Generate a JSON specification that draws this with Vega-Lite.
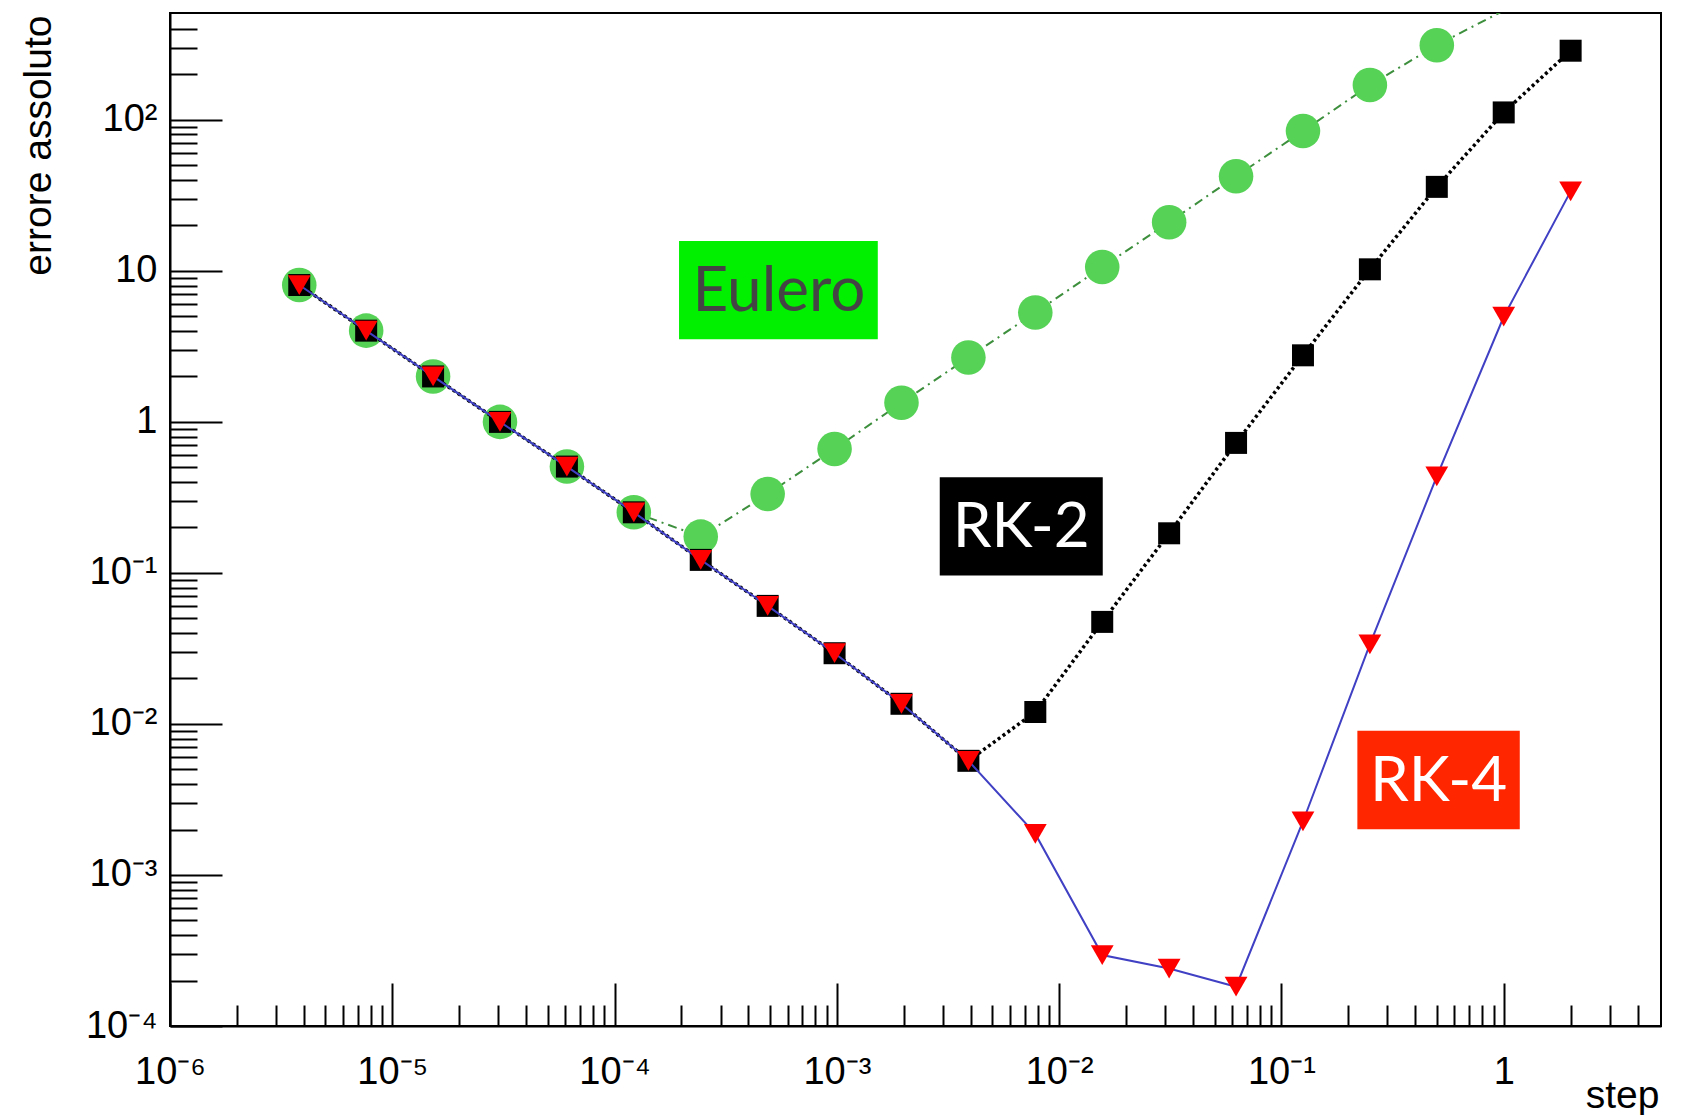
{
  "$schema": "https://vega.github.io/schema/vega-lite/v6.json",
  "width": 1491,
  "height": 1013,
  "autosize": {"type": "none"},
  "padding": {"left": 170, "top": 13, "right": 23, "bottom": 89},
  "background": "white",
  "config": {
    "view": {"stroke": "black", "strokeWidth": 2},
    "axis": {
      "grid": false,
      "labelFont": "Liberation Sans",
      "titleFont": "Liberation Sans",
      "labelColor": "black",
      "titleColor": "black",
      "domainColor": "black",
      "tickColor": "black",
      "labelFontSize": 38,
      "titleFontSize": 39,
      "titleFontWeight": "normal",
      "labelOverlap": false,
      "labelFlush": false,
      "labelBound": false
    }
  },
  "datasets": {
    "err": [
      {"h": 3.814697265625e-6, "euler": 8.06, "rk2": 8.06, "rk4": 8.06},
      {"h": 7.62939453125e-6, "euler": 4.02, "rk2": 4.02, "rk4": 4.02},
      {"h": 1.52587890625e-5, "euler": 2.0, "rk2": 2.0, "rk4": 2.0},
      {"h": 3.0517578125e-5, "euler": 1.0, "rk2": 1.0, "rk4": 1.0},
      {"h": 6.103515625e-5, "euler": 0.506, "rk2": 0.506, "rk4": 0.506},
      {"h": 1.220703125e-4, "euler": 0.252, "rk2": 0.252, "rk4": 0.252},
      {"h": 2.44140625e-4, "euler": 0.174, "rk2": 0.122, "rk4": 0.122},
      {"h": 4.8828125e-4, "euler": 0.333, "rk2": 0.0605, "rk4": 0.0605},
      {"h": 9.765625e-4, "euler": 0.662, "rk2": 0.0294, "rk4": 0.0294},
      {"h": 1.953125e-3, "euler": 1.34, "rk2": 0.0136, "rk4": 0.0136},
      {"h": 3.90625e-3, "euler": 2.67, "rk2": 0.0057, "rk4": 0.0057},
      {"h": 7.8125e-3, "euler": 5.3, "rk2": 0.012, "rk4": 0.00187},
      {"h": 0.015625, "euler": 10.6, "rk2": 0.0474, "rk4": 0.000295},
      {"h": 0.03125, "euler": 21.0, "rk2": 0.183, "rk4": 0.00024},
      {"h": 0.0625, "euler": 42.3, "rk2": 0.726, "rk4": 0.000182},
      {"h": 0.125, "euler": 84.3, "rk2": 2.76, "rk4": 0.00226},
      {"h": 0.25, "euler": 170, "rk2": 10.24, "rk4": 0.0336},
      {"h": 0.5, "euler": 312, "rk2": 36.0, "rk4": 0.436},
      {"h": 1, "euler": 530, "rk2": 112, "rk4": 4.97},
      {"h": 2, "euler": null, "rk2": 287, "rk4": 33.6}
    ],
    "labels": [
      {"label": "Eulero", "step_lo": 1.95e-4, "step_hi": 1.528e-3, "step_mid": 5.494e-4, "err_lo": 3.524, "err_hi": 15.77, "err_mid": 7.45},
      {"label": "RK-2", "step_lo": 2.903e-3, "step_hi": 0.01571, "step_mid": 6.754e-3, "err_lo": 0.09598, "err_hi": 0.43, "err_mid": 0.2032},
      {"label": "RK-4", "step_lo": 0.2196, "step_hi": 1.181, "step_mid": 0.5093, "err_lo": 0.002011, "err_hi": 0.009, "err_mid": 0.004253}
    ]
  },
  "layer": [
    {
      "data": {"name": "err"},
      "mark": {"type": "line", "color": "#3d8f3d", "strokeWidth": 2, "strokeDash": [9, 5, 2, 5], "clip": true},
      "encoding": {
        "x": {
          "field": "h", "type": "quantitative",
          "scale": {"type": "log", "domain": [1e-6, 5.1], "nice": false},
          "axis": {
            "orient": "bottom",
            "values": [2e-6, 3e-6, 4e-6, 5e-6, 6e-6, 7e-6, 8e-6, 9e-6, 2e-5, 3e-5, 4e-5, 5e-5, 6e-5, 7e-5, 8e-5, 9e-5, 2e-4, 3e-4, 4e-4, 5e-4, 6e-4, 7e-4, 8e-4, 9e-4, 2e-3, 3e-3, 4e-3, 5e-3, 6e-3, 7e-3, 8e-3, 9e-3, 0.02, 0.03, 0.04, 0.05, 0.06, 0.07, 0.08, 0.09, 0.2, 0.3, 0.4, 0.5, 0.6, 0.7, 0.8, 0.9, 2, 3, 4],
            "tickSize": -21, "tickWidth": 2, "labels": false, "domain": false, "title": null
          }
        },
        "y": {
          "field": "euler", "type": "quantitative",
          "scale": {"type": "log", "domain": [1e-4, 510], "nice": false},
          "axis": {
            "orient": "left",
            "values": [2e-4, 3e-4, 4e-4, 5e-4, 6e-4, 7e-4, 8e-4, 9e-4, 2e-3, 3e-3, 4e-3, 5e-3, 6e-3, 7e-3, 8e-3, 9e-3, 0.02, 0.03, 0.04, 0.05, 0.06, 0.07, 0.08, 0.09, 0.2, 0.3, 0.4, 0.5, 0.6, 0.7, 0.8, 0.9, 2, 3, 4, 5, 6, 7, 8, 9, 20, 30, 40, 50, 60, 70, 80, 90, 200, 300, 400],
            "tickSize": -27, "tickWidth": 2, "labels": false, "domain": false, "title": null
          }
        }
      }
    },
    {
      "data": {"name": "err"},
      "transform": [{"filter": "datum.euler != null && datum.euler <= 510"}],
      "mark": {"type": "point", "shape": "circle", "filled": true, "color": "#56d256", "opacity": 1, "size": 1195, "clip": true},
      "encoding": {
        "x": {
          "field": "h", "type": "quantitative",
          "scale": {"type": "log", "domain": [1e-6, 5.1], "nice": false},
          "axis": {
            "orient": "bottom",
            "values": [1e-6, 1e-5, 1e-4, 1e-3, 1e-2, 0.1, 1],
            "tickSize": -43, "tickWidth": 2, "domainWidth": 2,
            "labelPadding": 70,
            "labelExpr": "datum.value < 0.5 ? '10' + ['⁻⁶','⁻⁵','⁻⁴','⁻³','⁻²','⁻¹'][round(log(datum.value)/LN10)+6] : '1'",
            "title": "step", "titleX": 1489, "titleY": 81, "titleAlign": "right", "titleBaseline": "alphabetic", "titleAngle": 0
          }
        },
        "y": {
          "field": "euler", "type": "quantitative",
          "scale": {"type": "log", "domain": [1e-4, 510], "nice": false},
          "axis": {
            "orient": "left",
            "values": [1e-4, 1e-3, 1e-2, 0.1, 1, 10, 100],
            "tickSize": -52, "tickWidth": 2, "domainWidth": 2,
            "labelPadding": 65,
            "labelExpr": "datum.value < 0.5 ? '10' + ['⁻⁴','⁻³','⁻²','⁻¹'][round(log(datum.value)/LN10)+4] : (datum.value < 5 ? '1' : (datum.value < 50 ? '10' : '10²'))",
            "title": "errore assoluto", "titleX": -120, "titleY": 2, "titleAngle": -90, "titleAlign": "right", "titleBaseline": "alphabetic"
          }
        }
      }
    },
    {
      "data": {"name": "err"},
      "mark": {"type": "line", "color": "black", "strokeWidth": 3.5, "strokeDash": [3, 3], "clip": true},
      "encoding": {
        "x": {"field": "h", "type": "quantitative", "axis": null},
        "y": {"field": "rk2", "type": "quantitative", "axis": null}
      }
    },
    {
      "data": {"name": "err"},
      "mark": {"type": "point", "shape": "square", "filled": true, "color": "black", "opacity": 1, "size": 484, "clip": true},
      "encoding": {
        "x": {"field": "h", "type": "quantitative", "axis": null},
        "y": {"field": "rk2", "type": "quantitative", "axis": null}
      }
    },
    {
      "data": {"name": "err"},
      "mark": {"type": "line", "color": "#4040c4", "strokeWidth": 2, "clip": true},
      "encoding": {
        "x": {"field": "h", "type": "quantitative", "axis": null},
        "y": {"field": "rk4", "type": "quantitative", "axis": null}
      }
    },
    {
      "data": {"name": "err"},
      "mark": {"type": "point", "shape": "triangle-down", "filled": true, "color": "#ff0000", "opacity": 1, "size": 520, "clip": true},
      "encoding": {
        "x": {"field": "h", "type": "quantitative", "axis": null},
        "y": {"field": "rk4", "type": "quantitative", "axis": null}
      }
    },
    {
      "data": {"name": "labels"},
      "mark": {"type": "rect"},
      "encoding": {
        "x": {"field": "step_lo", "type": "quantitative", "axis": null},
        "x2": {"field": "step_hi"},
        "y": {"field": "err_lo", "type": "quantitative", "axis": null},
        "y2": {"field": "err_hi"},
        "color": {"field": "label", "type": "nominal", "legend": null,
          "scale": {"domain": ["Eulero", "RK-2", "RK-4"], "range": ["#00f000", "#000000", "#ff2600"]}}
      }
    },
    {
      "data": {"name": "labels"},
      "mark": {"type": "text", "font": "Lato", "fontSize": 62, "align": "center", "baseline": "middle", "dy": 2},
      "encoding": {
        "x": {"field": "step_mid", "type": "quantitative", "axis": null},
        "y": {"field": "err_mid", "type": "quantitative", "axis": null},
        "text": {"field": "label"},
        "color": {"condition": {"test": "datum.label === 'Eulero'", "value": "#444444"}, "value": "#ffffff"}
      }
    }
  ],
  "resolve": {"axis": {"x": "independent", "y": "independent"}}
}
